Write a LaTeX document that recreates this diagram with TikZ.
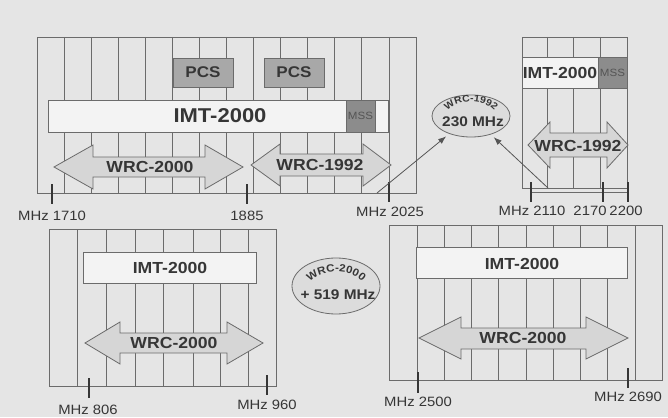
\documentclass[tikz,border=0pt]{standalone}
\usepackage{fontspec}
\setmainfont{Liberation Sans}[FakeStretch=1.1]
\usepackage{tikz}
\usetikzlibrary{arrows.meta,decorations.text,shapes.geometric}
\definecolor{paper}{HTML}{E5E5E5}
\definecolor{rule}{HTML}{6B6B6B}
\definecolor{ink}{HTML}{363636}
\definecolor{boxfill}{HTML}{F3F3F3}
\definecolor{pcsfill}{HTML}{A8A8A8}
\definecolor{mssfill}{HTML}{8C8C8C}
\definecolor{arrowfill}{HTML}{D6D6D6}
\definecolor{bubblefill}{HTML}{DCDCDC}
\newcommand\curvefont{\fontsize{9.5}{12}\selectfont\bfseries}
\newcommand\curvefontb{\fontsize{10.5}{12}\selectfont\bfseries}

\begin{document}
\begin{tikzpicture}[x=1pt,y=-1pt,
  every node/.style={text=ink,inner sep=0pt},
  gridline/.style={rule,line width=0.8pt},
  band/.style={fill=boxfill,draw=rule,line width=0.8pt},
  pcsbox/.style={fill=pcsfill,draw=rule,line width=0.8pt},
  mssbox/.style={fill=mssfill,draw=rule,line width=0.8pt},
  wrcarrow/.style={fill=arrowfill,draw=rule,line width=0.8pt,line join=miter},
  tickmark/.style={ink,line width=2.2pt},
  bigname/.style={font=\fontsize{20}{24}\selectfont\bfseries},
  bandname/.style={font=\fontsize{16}{19}\selectfont\bfseries},
  pcsname/.style={font=\fontsize{15.5}{18}\selectfont\bfseries},
  mssname/.style={font=\fontsize{10.5}{12}\selectfont,text=ink!85},
  freq/.style={font=\fontsize{13.5}{16}\selectfont},
  bubble/.style={ellipse,fill=bubblefill,draw=rule,line width=0.8pt},
  bubbletext/.style={font=\fontsize{14}{16}\selectfont\bfseries},
  pointer/.style={rule!80!black,line width=0.8pt,-{Latex[length=8pt,width=6pt]},shorten >=4pt}
]
\fill[paper] (0,0) rectangle (668,417);

\draw[gridline] (64,37) -- (64,193) (91,37) -- (91,193) (118,37) -- (118,193)
  (145,37) -- (145,193) (172,37) -- (172,193) (199,37) -- (199,193)
  (226,37) -- (226,193) (253,37) -- (253,193) (280,37) -- (280,193)
  (307,37) -- (307,193) (334,37) -- (334,193) (361,37) -- (361,193)
  (389,37) -- (389,193);
\draw[gridline] (37,37) rectangle (416,193);
\draw[pcsbox] (173,58) rectangle (233,87);
\node[pcsname] (pcsA) at (203,72.5) {PCS};
\draw[pcsbox] (264,58) rectangle (324,87);
\node[pcsname] (pcsB) at (294,72.5) {PCS};
\draw[band] (48,100) rectangle (388,132);
\draw[mssbox] (346,100) rectangle (375,132);
\node[bigname] (imtA) at (220,116) {IMT-2000};
\node[mssname] (mssA) at (360.5,116) {MSS};
\draw[wrcarrow] (54,167) -- (93,145) -- (93,157) -- (205,157) -- (205,145) -- (243,167)
  -- (205,189) -- (205,177) -- (93,177) -- (93,189) -- cycle;
\node[bandname] (wrcA) at (150,167) {WRC-2000};
\draw[wrcarrow] (251,165) -- (280,144) -- (280,154) -- (363,154) -- (363,144) -- (391,165)
  -- (363,186) -- (363,176) -- (280,176) -- (280,186) -- cycle;
\node[bandname] (wrcB) at (320,165) {WRC-1992};
\draw[tickmark] (52,184) -- (52,204);
\draw[tickmark] (247,184) -- (247,204);
\draw[tickmark] (389,182) -- (389,202);
\node[freq] (f1710) at (52,216) {MHz 1710};
\node[freq] (f1885) at (247,216) {1885};
\node[freq] (f2025) at (390,212) {MHz 2025};

\draw[gridline] (547,37) -- (547,188) (573,37) -- (573,188) (600,37) -- (600,188);
\draw[gridline] (522,37) rectangle (627,188);
\draw[band] (522,57) rectangle (598,88);
\draw[mssbox] (598,57) rectangle (627,88);
\node[bandname] (imtB) at (560,73) {IMT-2000};
\node[mssname] (mssB) at (612.5,73) {MSS};
\draw[wrcarrow] (528,145) -- (550,122) -- (550,133) -- (607,133) -- (607,122) -- (628,145)
  -- (607,168) -- (607,157) -- (550,157) -- (550,168) -- cycle;
\node[bandname] (wrcC) at (578,146) {WRC-1992};
\draw[gridline] (531,192) -- (628,192);
\draw[tickmark] (531,182) -- (531,202);
\draw[tickmark] (603,182) -- (603,202);
\draw[tickmark] (628,182) -- (628,202);
\node[freq] (f2110) at (532,211) {MHz 2110};
\node[freq] (f2170) at (590,211) {2170};
\node[freq] (f2200) at (626,211) {2200};

\node[bubble,minimum width=78pt,minimum height=42pt] (wrc92) at (471,116) {};
\path[decorate,decoration={text along path,text align=center,text color=ink,
  text={|\curvefont|WRC-1992}}]
  (471,118) ++(195:26 and 16) arc[start angle=195,end angle=345,x radius=26,y radius=16];
\node[bubbletext] (mhz230) at (473,122) {230 MHz};
\coordinate (from2025) at (377,193);
\coordinate (from2110) at (548,188);
\draw[pointer] (from2025) -- (wrc92);
\draw[pointer] (from2110) -- (wrc92);

\draw[gridline] (77,229) -- (77,386) (106,229) -- (106,386) (135,229) -- (135,386)
  (163,229) -- (163,386) (193,229) -- (193,386) (220,229) -- (220,386)
  (248,229) -- (248,386);
\draw[gridline] (49,229) rectangle (276,386);
\draw[band] (83,252) rectangle (256,283);
\node[bandname] (imtC) at (170,268) {IMT-2000};
\draw[wrcarrow] (85,343) -- (120,322) -- (120,333) -- (227,333) -- (227,322) -- (263,343)
  -- (227,364) -- (227,353) -- (120,353) -- (120,364) -- cycle;
\node[bandname] (wrcD) at (174,343) {WRC-2000};
\draw[tickmark] (89,378) -- (89,398);
\draw[tickmark] (267,375) -- (267,395);
\node[freq] (f806) at (88,410) {MHz 806};
\node[freq] (f960) at (267,405) {MHz 960};

\node[bubble,minimum width=88pt,minimum height=56pt] (wrc00) at (336,286) {};
\path[decorate,decoration={text along path,text align=center,text color=ink,
  text={|\curvefontb|WRC-2000}}]
  (336,291) ++(195:30 and 19) arc[start angle=195,end angle=345,x radius=30,y radius=19];
\node[bubbletext] (mhz519) at (338,295) {+ 519 MHz};

\draw[gridline] (417,225) -- (417,380) (444,225) -- (444,380) (471,225) -- (471,380)
  (498,225) -- (498,380) (526,225) -- (526,380) (553,225) -- (553,380)
  (580,225) -- (580,380) (607,225) -- (607,380) (635,225) -- (635,380);
\draw[gridline] (389,225) rectangle (662,380);
\draw[band] (416,247) rectangle (627,278);
\node[bandname] (imtD) at (522,264) {IMT-2000};
\draw[wrcarrow] (419,338) -- (461,317) -- (461,328) -- (586,328) -- (586,317) -- (628,338)
  -- (586,359) -- (586,349) -- (461,349) -- (461,359) -- cycle;
\node[bandname] (wrcE) at (523,338) {WRC-2000};
\draw[tickmark] (418,372) -- (418,393);
\draw[tickmark] (628,368) -- (628,388);
\node[freq] (f2500) at (418,402) {MHz 2500};
\node[freq] (f2690) at (628,397) {MHz 2690};
\end{tikzpicture}
\end{document}
